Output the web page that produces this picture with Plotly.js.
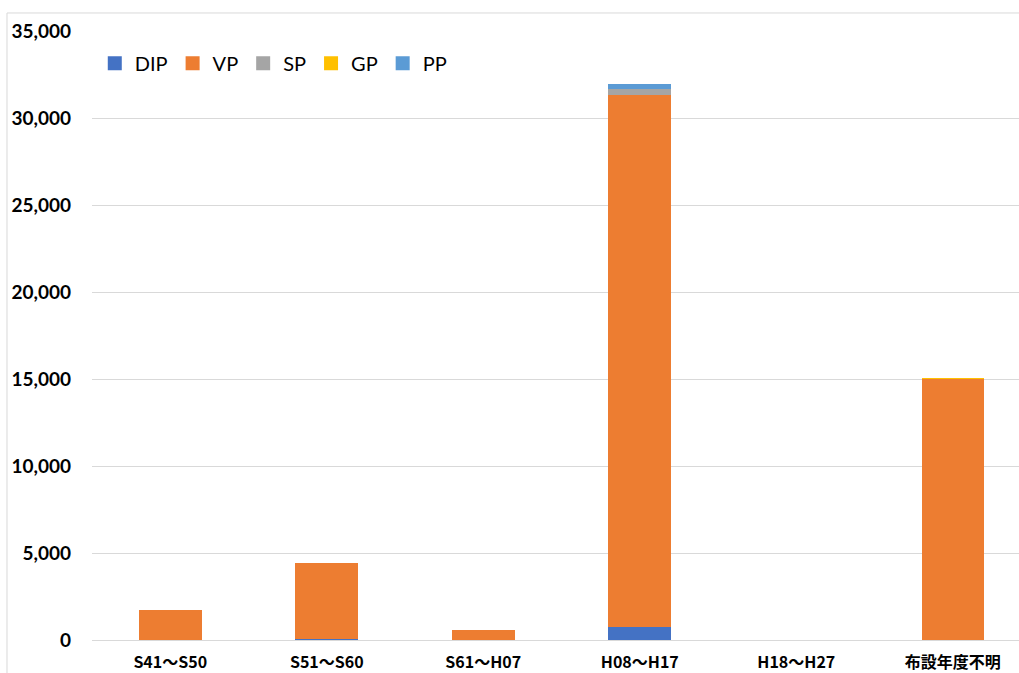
<!DOCTYPE html>
<html>
<head>
<meta charset="utf-8">
<script src="https://cdn.plot.ly/plotly-3.0.1.min.js"></script>
<style>
  html, body { margin: 0; padding: 0; background: #fff; overflow: hidden; }
  #chart { width: 1019px; height: 673px; }
</style>
</head>
<body>
<div id="chart"></div>
<script>
// 布設年度別 管種別延長 (m)
const categories = ['S41～S50', 'S51～S60', 'S61～H07', 'H08～H17', 'H18～H27', '布設年度不明'];
const DIP = [0, 30, 0, 750, 0, 0];
const VP  = [1710, 4370, 600, 30590, 0, 15020];
const SP  = [0, 0, 0, 310, 0, 0];
const GP  = [0, 0, 0, 0, 0, 60];
const PP  = [0, 0, 0, 290, 0, 0];
const yTicks = [0, 5000, 10000, 15000, 20000, 25000, 30000, 35000];

const series = [
  { name: 'DIP', y: DIP, color: '#4472C4' },
  { name: 'VP',  y: VP,  color: '#ED7D31' },
  { name: 'SP',  y: SP,  color: '#A5A5A5' },
  { name: 'GP',  y: GP,  color: '#FFC000' },
  { name: 'PP',  y: PP,  color: '#5B9BD5' }
];

// stacked bars (legend entries come from the square-marker keys below)
const bars = series.map(s => ({
  type: 'bar',
  name: s.name,
  legendgroup: s.name,
  showlegend: false,
  x: categories,
  y: s.y,
  marker: { color: s.color, line: { width: 0 } }
}));

// legend keys drawn as larger filled squares
const keys = series.map(s => ({
  type: 'scatter',
  mode: 'markers',
  name: s.name,
  legendgroup: s.name,
  x: [null],
  y: [null],
  marker: { symbol: 'square', size: 14, color: s.color },
  showlegend: true
}));

const layout = {
  width: 1019,
  height: 673,
  barmode: 'stack',
  bargap: 0.6,
  paper_bgcolor: '#ffffff',
  plot_bgcolor: '#ffffff',
  margin: { l: 92, r: 0, t: 31, b: 33, pad: 0 },
  font: { family: 'Lato, "Noto Sans CJK JP", sans-serif', color: '#000000' },
  xaxis: {
    type: 'category',
    categoryarray: categories,
    range: [-0.5, 5.423],
    showgrid: false,
    showline: true,
    linecolor: '#d9d9d9',
    linewidth: 1,
    ticks: '',
    ticklabelstandoff: 8,
    tickfont: { family: '"Noto Sans CJK JP", Lato, sans-serif', size: 16, weight: 'bold', color: '#000000' },
    fixedrange: true
  },
  yaxis: {
    range: [0, 35000],
    tickvals: yTicks,
    tickformat: ',d',
    showgrid: true,
    gridcolor: '#d9d9d9',
    gridwidth: 1,
    zeroline: false,
    showline: false,
    ticks: '',
    ticklabelstandoff: 20,
    tickfont: { family: 'Lato, sans-serif', size: 19, weight: 'bold', color: '#000000' },
    fixedrange: true
  },
  legend: {
    orientation: 'h',
    traceorder: 'normal',
    itemsizing: 'trace',
    x: 0.003,
    xanchor: 'left',
    y: 0.947,
    yanchor: 'middle',
    bgcolor: 'rgba(0,0,0,0)',
    font: { family: 'Lato, sans-serif', size: 20, color: '#000000' },
    itemclick: false,
    itemdoubleclick: false
  },
  shapes: [
    {
      type: 'rect', xref: 'paper', yref: 'paper',
      x0: -0.0917, x1: 1.2, y0: -0.3, y1: 1.0296,
      line: { color: '#d9d9d9', width: 1 },
      fillcolor: 'rgba(0,0,0,0)',
      layer: 'below'
    }
  ],
  showlegend: true
};

Plotly.newPlot('chart', bars.concat(keys), layout, { displayModeBar: false, staticPlot: true });
</script>
</body>
</html>
